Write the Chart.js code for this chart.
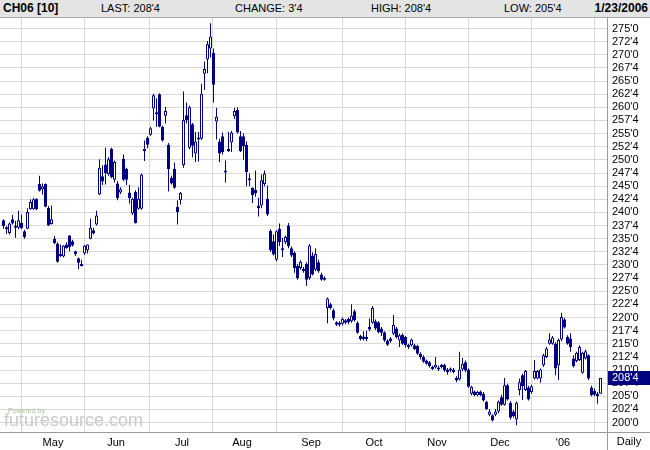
<!DOCTYPE html>
<html lang="en">
<head>
<meta charset="UTF-8">
<title>CH06 daily</title>
<style>
  html, body { margin: 0; padding: 0; background: #fff; }
  #wrap { position: relative; width: 650px; height: 450px; overflow: hidden; font-family: "Liberation Sans", Arial, sans-serif; }
  #myChart { position: absolute; left: 0; top: 0; }
  #head { position: absolute; left: 0; top: 0; width: 650px; height: 17px; background: #e4e4e4; border-bottom: 1px solid #a8a8a8; font-size: 11px; color: #000; }
  #head span { position: absolute; top: 2px; white-space: nowrap; }
  #head .b { font-weight: bold; font-size: 12px; top: 1px; }
</style>
</head>
<body>
<div id="wrap">
  <canvas id="myChart" width="650" height="450"></canvas>
  <div id="head">
    <span class="b" style="left:3px">CH06 [10]</span>
    <span style="left:101px">LAST: 208'4</span>
    <span style="left:235px">CHANGE: 3'4</span>
    <span style="left:371px">HIGH: 208'4</span>
    <span style="left:504px">LOW: 205'4</span>
    <span class="b" style="right:2px">1/23/2006</span>
  </div>
</div>

<script src="https://cdn.jsdelivr.net/npm/chart.js@4.4.1/dist/chart.umd.min.js"></script>
<script>
// daily candles, one per trading day (index 0 = first day shown)
var opens = [
  238.5, 237.1, 236.1, 238.7, 237.1, 237.1, 238.0, 236.4, 236.9, 240.6, 240.6, 242.6, 245.4, 244.4, 245.4, 240.9, 237.8,
  235.0, 234.1, 231.9, 231.6, 233.9, 235.6, 234.5, 232.6, 231.3, 230.1, 232.2, 232.8, 235.0, 236.6, 237.7, 243.4, 246.9, 249.1, 247.3, 252.1, 246.2,
  245.5, 243.8, 250.2, 248.3, 243.8, 239.8, 243.9, 240.7, 240.7, 251.7, 254.2, 254.8, 259.8, 259.0, 262.5, 256.3, 258.4, 252.9, 246.6, 248.3, 241.1, 242.3,
  249.0, 258.5, 252.3, 256.8, 251.2, 253.9, 254.0, 266.4, 269.1, 271.2, 270.4, 257.3, 253.5, 254.5, 248.0, 251.7, 253.3, 258.3, 259.5, 254.5,
  254.5, 252.9, 246.5, 244.7, 244.3, 241.3, 241.3, 245.4, 242.6, 236.5, 234.5, 231.0, 236.9, 233.1, 234.3, 237.5, 233.2, 232.3, 229.8, 229.4, 229.3, 230.2, 227.5,
  231.8, 229.1, 230.5, 228.2, 227.5, 221.8, 222.5, 221.4, 219.1, 219.0, 218.8, 219.5, 219.7, 219.3, 221.2, 219.0, 216.5, 216.4, 215.9, 218.2, 219.0,
  219.3, 219.1, 217.9, 217.2, 215.6, 216.0, 216.9, 217.9, 215.6, 216.7, 216.3, 214.4, 214.7, 214.7, 214.6, 213.1, 212.5, 211.8, 211.5, 210.5, 210.5,
  210.5, 210.6, 211.0, 210.1, 209.9, 210.1, 208.5, 208.2, 210.1, 211.5, 210.1, 205.5, 205.9, 205.2, 205.9, 205.5, 203.9, 201.5, 201.4, 201.5, 202.1,
  204.8, 203.4, 207.1, 203.8, 202.1, 200.6, 206.2, 209.0, 206.2, 206.7, 205.8, 208.4, 208.4, 208.4, 210.9, 212.5, 215.0, 215.0, 215.0, 210.9, 215.8,
  219.6, 216.3, 216.0, 212.2, 211.7, 211.9, 209.5, 212.2, 212.8, 206.7, 206.0, 205.5, 205.5
];
var highs = [
  238.7, 237.4, 238.1, 239.5, 238.4, 240.3, 239.6, 236.7, 240.8, 242.5, 242.8, 242.7, 247.0, 245.5, 245.5, 241.2, 241.3,
  235.5, 234.3, 233.9, 233.8, 234.3, 235.7, 234.8, 232.7, 231.4, 231.0, 233.8, 233.9, 238.8, 237.1, 240.3, 250.1, 249.0, 252.3, 250.5, 252.3, 249.9,
  246.0, 244.8, 251.0, 248.5, 245.2, 242.8, 244.2, 244.8, 247.4, 253.7, 254.5, 256.3, 262.6, 261.7, 262.7, 256.5, 260.1, 253.2, 247.0, 249.5, 242.3, 243.9,
  263.0, 260.9, 260.3, 257.0, 255.3, 255.3, 264.5, 268.7, 272.6, 276.0, 271.2, 259.9, 254.0, 255.2, 249.9, 255.3, 255.5, 259.9, 260.0, 255.5,
  255.0, 253.5, 247.4, 244.8, 248.0, 242.8, 247.2, 248.0, 245.1, 236.8, 235.8, 236.6, 237.9, 235.2, 235.6, 238.0, 233.5, 232.6, 230.2, 230.9, 229.6, 230.5, 234.0,
  232.4, 233.2, 231.0, 228.5, 227.8, 223.8, 222.8, 221.7, 219.3, 219.3, 220.0, 219.7, 220.0, 222.5, 221.5, 219.3, 216.7, 217.4, 217.5, 219.8, 222.2,
  219.6, 219.3, 218.2, 217.4, 215.8, 216.3, 220.5, 218.2, 216.9, 217.0, 216.5, 215.0, 216.0, 215.0, 214.8, 213.4, 212.8, 212.0, 211.7, 210.8, 212.5,
  210.8, 211.2, 211.2, 210.4, 210.5, 210.4, 208.8, 213.5, 212.3, 211.8, 210.3, 207.0, 206.1, 206.0, 206.1, 205.8, 204.1, 202.6, 201.6, 202.6, 204.2,
  205.3, 208.5, 207.4, 204.1, 202.4, 204.0, 208.4, 209.3, 210.0, 207.0, 207.2, 211.9, 210.0, 210.3, 213.1, 214.4, 217.0, 216.5, 215.3, 216.0, 220.9,
  219.9, 216.6, 217.0, 212.8, 213.5, 214.7, 213.5, 213.9, 213.0, 207.0, 206.5, 205.8, 208.5
];
var lows = [
  236.9, 235.9, 235.8, 237.7, 235.2, 236.8, 236.8, 235.0, 236.8, 240.5, 240.5, 240.4, 244.0, 243.4, 241.0, 237.4, 237.7,
  234.0, 230.4, 231.5, 231.4, 233.1, 232.6, 233.5, 231.7, 229.2, 229.7, 231.9, 232.2, 234.9, 235.8, 237.5, 243.3, 245.2, 245.3, 247.0, 246.5, 245.7,
  242.3, 243.5, 246.0, 245.2, 241.7, 239.5, 237.9, 240.5, 240.5, 249.8, 252.2, 254.6, 257.5, 256.3, 256.2, 253.5, 256.9, 244.0, 245.3, 244.5, 237.7, 241.5,
  248.5, 256.9, 252.0, 250.5, 249.6, 249.7, 253.8, 263.3, 266.5, 269.5, 260.9, 253.9, 249.6, 251.0, 245.7, 251.5, 251.5, 257.8, 255.0, 251.5,
  250.0, 245.0, 245.0, 241.8, 243.0, 239.2, 240.8, 245.0, 239.3, 232.5, 231.8, 230.7, 233.6, 231.5, 234.0, 233.2, 231.5, 228.5, 227.2, 229.1, 228.5, 226.0, 227.2,
  228.0, 228.8, 228.5, 227.0, 227.0, 218.9, 221.5, 219.5, 218.4, 218.3, 218.5, 218.7, 218.7, 219.0, 219.2, 216.9, 215.6, 215.6, 215.5, 217.4, 218.8,
  217.6, 217.0, 216.5, 215.4, 214.6, 215.2, 216.6, 216.0, 214.4, 214.8, 214.3, 214.0, 214.5, 213.8, 212.9, 212.0, 211.4, 211.0, 210.5, 210.0, 210.3,
  209.8, 210.3, 209.7, 209.1, 209.6, 209.4, 207.7, 208.0, 209.8, 209.6, 206.6, 205.2, 205.0, 205.0, 205.0, 204.0, 202.4, 201.2, 200.2, 201.2, 201.8,
  203.2, 203.2, 204.2, 200.6, 200.9, 199.5, 205.2, 204.3, 206.0, 204.2, 205.5, 208.2, 208.2, 207.6, 210.6, 212.3, 214.8, 214.8, 209.0, 208.1, 215.5,
  217.9, 214.8, 213.5, 210.5, 211.5, 211.7, 209.3, 212.0, 208.1, 205.0, 205.0, 203.6, 205.5
];
var closes = [
  237.4, 236.8, 237.9, 237.9, 237.4, 238.5, 237.0, 235.3, 240.1, 242.0, 242.5, 240.6, 244.1, 245.0, 241.1, 237.5, 238.7,
  234.2, 230.6, 231.7, 233.7, 233.2, 233.4, 233.7, 232.1, 230.4, 229.8, 233.7, 233.9, 237.1, 236.0, 239.4, 248.5, 245.9, 247.5, 250.1, 246.7, 249.6,
  242.7, 244.4, 246.2, 246.2, 242.7, 242.6, 238.0, 242.6, 247.2, 252.1, 252.9, 256.0, 262.3, 258.7, 256.3, 253.7, 259.3, 248.2, 245.5, 244.7, 240.1, 243.7,
  257.6, 257.6, 260.0, 252.7, 253.5, 254.0, 262.6, 267.3, 272.0, 273.5, 264.3, 258.2, 251.2, 251.5, 247.6, 252.0, 255.2, 259.3, 255.2, 251.7,
  252.6, 247.7, 246.1, 243.3, 243.6, 240.8, 246.1, 247.4, 239.6, 232.8, 232.0, 236.4, 234.3, 232.8, 235.3, 233.6, 231.8, 229.4, 227.5, 230.6, 228.8, 227.2, 233.7,
  228.2, 232.1, 228.8, 227.2, 227.2, 223.6, 221.8, 219.8, 218.6, 218.6, 219.7, 219.0, 219.1, 220.4, 219.5, 217.1, 215.9, 215.9, 216.3, 217.7, 221.8,
  217.9, 217.2, 217.1, 215.6, 214.8, 215.5, 218.6, 216.3, 216.6, 215.0, 214.7, 214.8, 215.8, 214.0, 213.1, 212.5, 211.6, 211.2, 210.7, 210.2, 211.0,
  210.1, 210.9, 209.9, 209.6, 210.2, 209.6, 208.0, 210.1, 211.2, 209.9, 206.8, 206.8, 205.2, 205.8, 205.2, 204.2, 202.6, 202.1, 200.4, 202.1, 204.0,
  203.4, 207.1, 204.4, 200.9, 201.2, 203.8, 207.7, 206.9, 209.8, 204.4, 206.9, 209.8, 209.8, 210.1, 212.8, 214.1, 215.8, 216.2, 210.3, 215.7, 220.1,
  218.1, 215.0, 214.4, 210.7, 213.3, 214.4, 213.3, 213.6, 208.4, 205.2, 205.3, 205.0, 208.5
];

// month grid: index of first trading day of each month, and its label
var monthStarts = [17, 38, 60, 80, 103, 124, 145, 166, 187];
var monthLabels = ['May', 'Jun', 'Jul', 'Aug', 'Sep', 'Oct', 'Nov', 'Dec', "'06"];

// price ticks every 2 4/8 cents
var priceTicks = [];
for (var p = 200; p <= 275; p += 2.5) priceTicks.push(p);

var navy = '#000080';
var gridGray = '#d9d9d9';

function fmt(v) {
    var w = Math.floor(v + 1e-9);
    var e = Math.round((v - w) * 8);
    return w + "'" + e;
}

var bodyData = opens.map((o, i) => ({ x: i, y: [o, closes[i]] }));
var rangeData = highs.map((h, i) => ({ x: i, y: [lows[i], h] }));

var overlay = {
    id: 'overlay',
    afterDraw: function (chart) {
        var c = chart.ctx;
        var area = chart.chartArea;
        c.save();
        // separator lines carried through the axis bands
        c.strokeStyle = '#9a9a9a';
        c.lineWidth = 1;
        c.beginPath();
        c.moveTo(Math.round(area.right) + 0.5, area.top);
        c.lineTo(Math.round(area.right) + 0.5, 450);
        c.moveTo(0, Math.round(area.bottom) + 0.5);
        c.lineTo(650, Math.round(area.bottom) + 0.5);
        c.stroke();

        c.font = '11px "Liberation Sans", Arial, sans-serif';
        c.fillStyle = '#000';
        c.textAlign = 'center';
        c.textBaseline = 'middle';
        c.fillText('Daily', 629, 442);

        // last price box
        var last = closes[closes.length - 1];
        var y = chart.scales.y.getPixelForValue(last);
        c.fillStyle = navy;
        c.fillRect(Math.round(area.right) + 1, Math.round(y) - 7, 650 - Math.round(area.right) - 1, 14);
        c.fillStyle = '#fff';
        c.textAlign = 'left';
        c.fillText(fmt(last), 612, Math.round(y));

        // watermark
        c.fillStyle = '#a9c196';
        c.font = '7px "Liberation Sans", Arial, sans-serif';
        c.fillText('Powered by', 8, 411);
        c.fillStyle = '#c9c9c9';
        c.font = '18px "Liberation Sans", Arial, sans-serif';
        c.fillText('futuresource.com', 4, 421);
        c.restore();
    }
};

var ctx = document.getElementById('myChart');
var myChart = new Chart(ctx, {
    type: 'bar',
    data: {
        datasets: [{
            label: 'body',
            data: bodyData,
            order: 0,
            grouped: false,
            barThickness: 3,
            minBarLength: 2,
            inflateAmount: 0,
            borderWidth: 1,
            borderSkipped: false,
            borderColor: navy,
            backgroundColor: (c) => closes[c.dataIndex] > opens[c.dataIndex] ? '#ffffff' : navy
        }, {
            label: 'range',
            data: rangeData,
            order: 1,
            grouped: false,
            barThickness: 1,
            inflateAmount: 0,
            borderWidth: 0,
            backgroundColor: navy
        }]
    },
    options: {
        responsive: false,
        animation: false,
        events: [],
        layout: { padding: { top: 18, left: 0, right: 0, bottom: 0 } },
        plugins: { legend: { display: false }, tooltip: { enabled: false } },
        scales: {
            x: {
                type: 'linear',
                offset: false,
                min: -7 / 6,
                max: -7 / 6 + 607 / 3,
                grid: { color: gridGray, drawTicks: false },
                border: { color: '#9a9a9a' },
                afterBuildTicks: (s) => { s.ticks = monthStarts.map(i => ({ value: i - 0.5 })); },
                afterFit: (s) => { s.height = 18; },
                ticks: {
                    autoSkip: false,
                    maxRotation: 0,
                    padding: 4,
                    color: '#000',
                    font: { family: '"Liberation Sans", Arial, sans-serif', size: 11 },
                    callback: (v, i) => monthLabels[i]
                }
            },
            y: {
                position: 'right',
                min: 198.21,
                max: 277.0,
                grid: { color: gridGray, drawTicks: false },
                border: { color: '#9a9a9a' },
                afterBuildTicks: (s) => { s.ticks = priceTicks.map(v => ({ value: v })); },
                afterFit: (s) => { s.width = 43; },
                ticks: {
                    autoSkip: false,
                    padding: 5,
                    color: '#000',
                    font: { family: '"Liberation Sans", Arial, sans-serif', size: 11 },
                    callback: (v) => fmt(v)
                }
            }
        }
    },
    plugins: [overlay]
});
</script>
</body>
</html>
